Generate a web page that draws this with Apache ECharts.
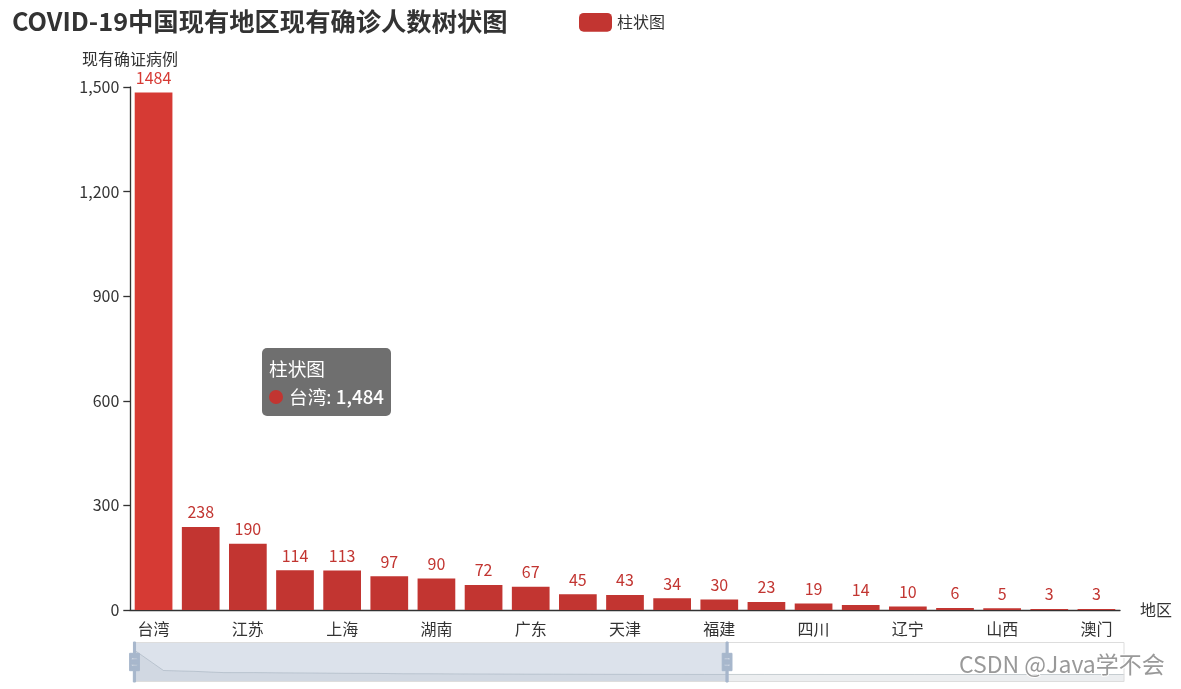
<!DOCTYPE html>
<html>
<head>
<meta charset="utf-8">
<script src="https://cdn.jsdelivr.net/npm/echarts@6/dist/echarts.min.js"></script>
<style>
html,body{margin:0;padding:0;background:#fff;}
#main{width:1181px;height:689px;}
</style>
</head>
<body>
<div id="main"></div>
<script>
const titleText = 'COVID-19中国现有地区现有确诊人数树状图';
const seriesName = '柱状图';
const regions = ['台湾', '香港', '江苏', '浙江', '上海', '云南', '湖南', '北京', '广东', '河南', '天津', '陕西', '福建', '山东', '四川', '广西', '辽宁', '内蒙古', '山西', '重庆', '澳门',
  '河北', '吉林', '黑龙江', '安徽', '江西', '湖北', '海南', '贵州', '西藏', '甘肃', '青海', '宁夏', '新疆'];
const confirmed = [1484, 238, 190, 114, 113, 97, 90, 72, 67, 45, 43, 34, 30, 23, 19, 14, 10, 6, 5, 3, 3,
  2, 2, 1, 1, 1, 1, 0, 0, 0, 0, 0, 0, 0];
const yTicks = { min: 0, max: 1500, interval: 300 };
const zoomWindow = { start: 0, end: 60 };

const FONT = '"Noto Sans CJK SC", "Microsoft YaHei", sans-serif';
const chart = echarts.init(document.getElementById('main'));
const handleIcon = 'M8.2,13.6V3.9H6.3v9.7H3.1v14.9h3.3v9.7h1.8v-9.7h3.3V13.6H8.2z M9.7,24.4H4.8v-1.4h4.9V24.4z M9.7,19.1H4.8v-1.4h4.9V19.1z';

chart.setOption({
  animation: false,
  textStyle: { fontFamily: FONT },
  color: ['#c23531'],
  title: {
    text: titleText,
    left: 7, top: 4,
    textStyle: { fontSize: 25.3, fontWeight: 'bold', color: '#333', fontFamily: FONT }
  },
  legend: {
    data: [seriesName],
    left: 574, top: 8,
    itemWidth: 33, itemHeight: 18.7,
    itemGap: 13,
    textStyle: { fontSize: 16, color: '#333', fontFamily: FONT }
  },
  tooltip: {
    trigger: 'item',
    alwaysShowContent: true,
    backgroundColor: 'rgba(50,50,50,0.7)',
    borderWidth: 0,
    padding: [6, 7],
    extraCssText: 'box-shadow:none;border-radius:5px;',
    textStyle: { color: '#fff', fontSize: 18.7, fontFamily: FONT },
    position: function () { return [262, 348]; },
    formatter: function (p) {
      const dot = '<span style="display:inline-block;margin-right:6px;border-radius:50%;width:14px;height:14px;background-color:' + p.color + ';"></span>';
      return p.seriesName + '<br/>' + dot + p.name + ': <span style="font-weight:500">' + p.value.toLocaleString('en-US') + '</span>';
    }
  },
  grid: { left: 130, right: 61, top: 87, bottom: 79 },
  xAxis: {
    type: 'category',
    data: regions,
    name: '地区',
    nameGap: 20,
    nameTextStyle: { fontSize: 16, color: '#333' },
    axisLine: { lineStyle: { color: '#333', width: 1.33 } },
    axisTick: { length: 6.7, lineStyle: { width: 1.33 } },
    axisLabel: { interval: 1, fontSize: 16, color: '#333', margin: 10.7 }
  },
  yAxis: {
    type: 'value',
    min: yTicks.min, max: yTicks.max, interval: yTicks.interval,
    name: '现有确证病例',
    nameGap: 20,
    nameTextStyle: { fontSize: 16, color: '#333' },
    axisLine: { show: true, lineStyle: { color: '#333', width: 1.33 } },
    axisTick: { show: true, length: 6.7, lineStyle: { width: 1.33 } },
    axisLabel: { fontSize: 16, color: '#333', margin: 10.7 },
    splitLine: { show: false }
  },
  dataZoom: [{
    type: 'slider',
    xAxisIndex: 0,
    start: zoomWindow.start, end: zoomWindow.end,
    left: 131, right: 59, top: 642, height: 40,
    backgroundColor: 'rgba(47,69,84,0)',
    borderColor: '#ddd',
    fillerColor: 'rgba(167,183,204,0.4)',
    dataBackground: {
      lineStyle: { color: '#2f4554', width: 0.8, opacity: 0.3 },
      areaStyle: { color: 'rgba(47,69,84,0.3)', opacity: 0.3 }
    },
    selectedDataBackground: {
      lineStyle: { color: '#2f4554', width: 0.8, opacity: 0.3 },
      areaStyle: { color: 'rgba(47,69,84,0.3)', opacity: 0.3 }
    },
    handleIcon: handleIcon,
    handleSize: '100%',
    handleStyle: { color: '#a7b7cc', borderColor: '#a7b7cc' },
    moveHandleSize: 0,
    showDetail: false,
    brushSelect: false
  }],
  graphic: [{
    type: 'text',
    left: 958, top: 652,
    style: {
      text: 'CSDN @Java学不会',
      fontSize: 23, fontFamily: FONT,
      fill: '#999', stroke: '#fff', lineWidth: 2
    },
    z: 100
  }],
  series: [{
    name: seriesName,
    type: 'bar',
    data: confirmed,
    barCategoryGap: '20%',
    label: { show: true, position: 'top', fontSize: 16, distance: 6.7, color: 'inherit' },
    emphasis: { itemStyle: { color: '#d63a34' }, label: { color: '#d63a34' } }
  }]
});

chart.dispatchAction({ type: 'highlight', seriesIndex: 0, dataIndex: 0 });
chart.dispatchAction({ type: 'showTip', seriesIndex: 0, dataIndex: 0 });
</script>
</body>
</html>
